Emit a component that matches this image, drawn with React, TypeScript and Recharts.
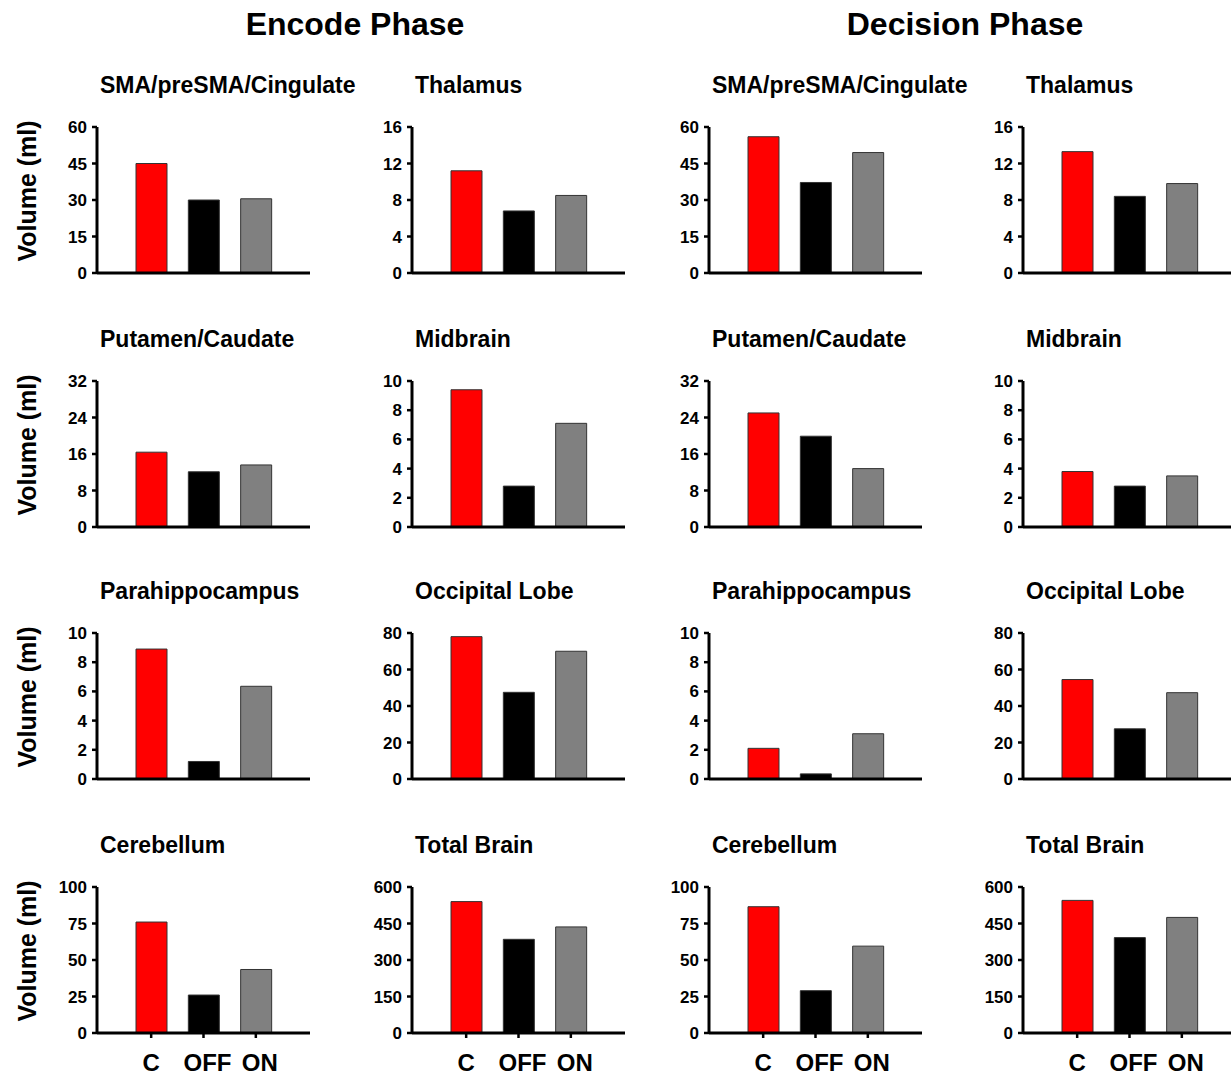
import React from "react";
import { Bar, BarChart, Cell, XAxis, YAxis } from "recharts";

const groups = ["C", "OFF", "ON"];
const groupColors = ["#ff0000", "#000000", "#808080"];

const regions = [
  "SMA/preSMA/Cingulate",
  "Thalamus",
  "Putamen/Caudate",
  "Midbrain",
  "Parahippocampus",
  "Occipital Lobe",
  "Cerebellum",
  "Total Brain",
];
const yTicks = [
  [0, 15, 30, 45, 60],
  [0, 4, 8, 12, 16],
  [0, 8, 16, 24, 32],
  [0, 2, 4, 6, 8, 10],
  [0, 2, 4, 6, 8, 10],
  [0, 20, 40, 60, 80],
  [0, 25, 50, 75, 100],
  [0, 150, 300, 450, 600],
];

const encodeValues = [
  [45, 30, 30.5],
  [11.2, 6.8, 8.5],
  [16.4, 12.1, 13.6],
  [9.4, 2.8, 7.1],
  [8.9, 1.2, 6.35],
  [78, 47.5, 70],
  [76, 26, 43.5],
  [540, 385, 436],
];
const decisionValues = [
  [56, 37.2, 49.5],
  [13.3, 8.4, 9.8],
  [25, 19.9, 12.8],
  [3.8, 2.8, 3.5],
  [2.1, 0.35, 3.1],
  [54.5, 27.5, 47.3],
  [86.5, 29, 59.5],
  [545, 392, 475],
];

const phases = ["Encode Phase", "Decision Phase"];

// layout (px)
const colAxisX = [97, 412, 709, 1023];
const rowAxisTop = [127, 381, 633, 887];
const phaseCenterX = [355, 965];
const plotH = 146;
const plotW = 213;
const yAxisW = 50;
const labelShift = [0, 4, 4];
const FONT = '"Liberation Sans", Arial, sans-serif';

function GroupTick(props: any) {
  const { x, y, payload, index } = props;
  return (
    <text
      x={x + (labelShift[index] ?? 0)}
      y={y}
      dy="0.71em"
      textAnchor="middle"
      fill="#000"
      fontSize={24}
      fontWeight="bold"
      fontFamily={FONT}
    >
      {payload.value}
    </text>
  );
}

function Panel({
  title,
  values,
  ticks,
  axisX,
  axisTop,
  showX,
}: {
  title: string;
  values: number[];
  ticks: number[];
  axisX: number;
  axisTop: number;
  showX: boolean;
}) {
  const data = groups.map((g, i) => ({ name: g, v: values[i] }));
  const max = ticks[ticks.length - 1];
  const xH = showX ? 50 : 12;
  return (
    <>
      <div
        style={{
          position: "absolute",
          left: axisX + 3,
          top: axisTop - 42 - 11,
          fontSize: 23,
          lineHeight: "23px",
          fontWeight: "bold",
          whiteSpace: "nowrap",
        }}
      >
        {title}
      </div>
      <div style={{ position: "absolute", left: axisX - yAxisW, top: axisTop - 10 }}>
        <BarChart
          width={yAxisW + plotW + 8}
          height={10 + plotH + xH}
          data={data}
          margin={{ top: 10, right: 8, left: 0, bottom: 0 }}
        >
          <XAxis
            dataKey="name"
            height={xH}
            padding={{ left: 28, right: 28 }}
            axisLine={{ stroke: "#000", strokeWidth: 3 }}
            tickLine={{ stroke: "#000", strokeWidth: 2.5 }}
            tickSize={5}
            tickMargin={16}
            interval={0}
            tick={showX ? <GroupTick /> : false}
          />
          <YAxis
            width={yAxisW}
            domain={[0, max]}
            ticks={ticks}
            interval={0}
            axisLine={{ stroke: "#000", strokeWidth: 3 }}
            tickLine={{ stroke: "#000", strokeWidth: 2.5 }}
            tickSize={5}
            tickMargin={5}
            tick={{ fill: "#000", fontSize: 17, fontWeight: "bold", fontFamily: FONT }}
          />
          <Bar dataKey="v" barSize={31} stroke="#333" strokeWidth={1} isAnimationActive={false}>
            {data.map((d, i) => (
              <Cell key={d.name} fill={groupColors[i]} />
            ))}
          </Bar>
        </BarChart>
      </div>
    </>
  );
}

export default function App() {
  const panels: React.ReactNode[] = [];
  [encodeValues, decisionValues].forEach((vals, p) => {
    regions.forEach((r, i) => {
      const row = Math.floor(i / 2);
      const col = p * 2 + (i % 2);
      panels.push(
        <Panel
          key={p + "-" + i}
          title={r}
          values={vals[i]}
          ticks={yTicks[i]}
          axisX={colAxisX[col]}
          axisTop={rowAxisTop[row]}
          showX={row === 3}
        />
      );
    });
  });

  return (
    <div
      style={{
        position: "absolute",
        left: 0,
        top: 0,
        width: 1231,
        height: 1076,
        overflow: "hidden",
        background: "#fff",
        fontFamily: FONT,
        color: "#000",
      }}
    >
      {phases.map((ph, k) => (
        <div
          key={ph}
          style={{
            position: "absolute",
            left: phaseCenterX[k] - 200,
            width: 400,
            top: 8,
            textAlign: "center",
            fontSize: 32,
            lineHeight: "32px",
            fontWeight: "bold",
          }}
        >
          {ph}
        </div>
      ))}
      {rowAxisTop.map((t) => (
        <div
          key={t}
          style={{
            position: "absolute",
            left: 27 - 100,
            top: t + 64 - 14,
            width: 200,
            textAlign: "center",
            fontSize: 25,
            lineHeight: "28px",
            fontWeight: "bold",
            transform: "rotate(-90deg)",
          }}
        >
          Volume (ml)
        </div>
      ))}
      {panels}
    </div>
  );
}
